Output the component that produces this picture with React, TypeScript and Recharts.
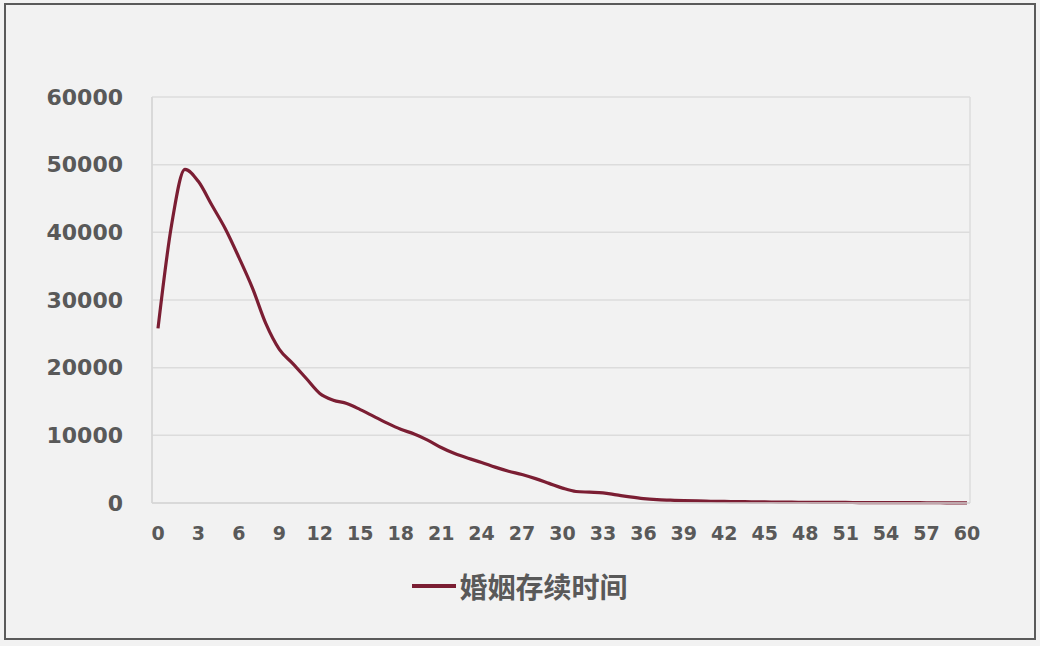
import React from "react";
import { CartesianGrid, Legend, Line, LineChart, XAxis, YAxis } from "recharts";

// marriage duration in years (x) vs. number of cases (y)
const years = [
  0, 1, 2, 3, 4, 5, 6, 7, 8, 9, 10, 11, 12, 13, 14, 15, 16, 17, 18, 19, 20,
  21, 22, 23, 24, 25, 26, 27, 28, 29, 30, 31, 32, 33, 34, 35, 36, 37, 38, 39,
  40, 41, 42, 43, 44, 45, 46, 47, 48, 49, 50, 51, 52, 53, 54, 55, 56, 57, 58,
  59, 60
];
const counts = [
  25800, 41000, 49300, 47500, 44000, 40500, 36300, 31800, 26500, 22700, 20600,
  18400, 16200, 15200, 14700, 13800, 12800, 11800, 10900, 10200, 9300, 8200,
  7300, 6600, 6000, 5300, 4700, 4200, 3600, 2900, 2200, 1700, 1600, 1500,
  1200, 900, 650, 500, 420, 350, 300, 260, 230, 200, 180, 160, 140, 120, 110,
  100, 90, 80, 70, 60, 55, 50, 45, 40, 35, 30, 30
];
const xTicks = [0, 3, 6, 9, 12, 15, 18, 21, 24, 27, 30, 33, 36, 39, 42, 45, 48, 51, 54, 57, 60];
const yTicks = [0, 10000, 20000, 30000, 40000, 50000, 60000];
const seriesName = "婚姻存续时间";

const data = years.map((year, i) => ({ year, count: counts[i] }));

const LINE_COLOR = "#7b1e33";
const TEXT_COLOR = "#595959";
const yTickStyle = {
  fill: TEXT_COLOR,
  fontSize: 22,
  fontWeight: 700,
  fontFamily: "DejaVu Sans, sans-serif"
};
const xTickStyle = { ...yTickStyle, fontSize: 19 };

function LegendContent() {
  return (
    <div style={{ display: "flex", justifyContent: "center", alignItems: "center", height: 36 }}>
      <svg width={44} height={8} style={{ marginRight: 3 }}>
        <line x1={0} y1={4} x2={44} y2={4} stroke={LINE_COLOR} strokeWidth={4} />
      </svg>
      <span
        style={{
          color: TEXT_COLOR,
          fontSize: 28,
          fontWeight: 700,
          fontFamily: "'Noto Sans CJK SC', sans-serif",
          lineHeight: "36px"
        }}
      >
        {seriesName}
      </span>
    </div>
  );
}

export default function App() {
  return (
    <div
      style={{
        position: "fixed",
        top: 0,
        left: 0,
        width: 1040,
        height: 646,
        background: "#f2f2f2",
        overflow: "hidden"
      }}
    >
      <div
        style={{
          position: "absolute",
          left: 4,
          top: 3,
          width: 1028,
          height: 633,
          border: "2px solid #5a5a5a"
        }}
      />
      <div style={{ position: "absolute", left: 0, top: 0 }}>
        <LineChart
          width={1040}
          height={646}
          data={data}
          margin={{ top: 97, right: 70, left: 0, bottom: 67 }}
        >
          <CartesianGrid
            stroke="#dcdcdc"
            strokeWidth={1.5}
            verticalCoordinatesGenerator={({ offset }: any) => [
              offset.left,
              offset.left + offset.width
            ]}
          />
          <XAxis
            dataKey="year"
            type="number"
            domain={[0, 60]}
            ticks={xTicks}
            interval={0}
            padding={{ left: 6, right: 3 }}
            axisLine={{ stroke: "#d6d6d6", strokeWidth: 1.5 }}
            tickLine={false}
            tickSize={0}
            tickMargin={24}
            height={40}
            tick={xTickStyle}
          />
          <YAxis
            domain={[0, 60000]}
            ticks={yTicks}
            interval={0}
            width={152}
            axisLine={{ stroke: "#d6d6d6", strokeWidth: 1.5 }}
            tickLine={false}
            tickSize={0}
            tickMargin={29}
            tick={yTickStyle}
          />
          <Legend
            verticalAlign="bottom"
            wrapperStyle={{ left: 0, width: 1040, bottom: 42 }}
            content={() => <LegendContent />}
          />
          <Line
            type="monotone"
            dataKey="count"
            name={seriesName}
            stroke={LINE_COLOR}
            strokeWidth={3.2}
            dot={false}
            isAnimationActive={false}
          />
        </LineChart>
      </div>
    </div>
  );
}
